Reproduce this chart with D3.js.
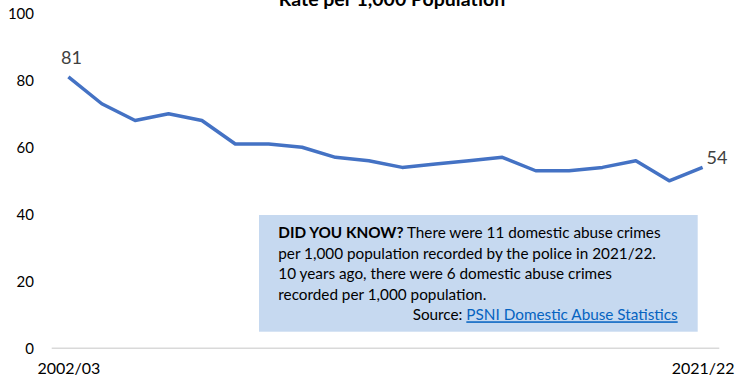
<!DOCTYPE html>
<html>
<head>
<meta charset="utf-8">
<script src="https://cdn.jsdelivr.net/npm/d3@7"></script>
<style>
  html, body { margin: 0; padding: 0; background: #fff; }
  svg { display: block; font-family: Lato, "Open Sans", sans-serif; }
</style>
</head>
<body>
<svg id="chart" width="737" height="382"></svg>
<script>
const categories = ["2002/03","2003/04","2004/05","2005/06","2006/07","2007/08","2008/09","2009/10","2010/11","2011/12",
  "2012/13","2013/14","2014/15","2015/16","2016/17","2017/18","2018/19","2019/20","2020/21","2021/22"];
const rates = [81,73,68,70,68,61,61,60,57,56,54,55,56,57,53,53,54,56,50,54];
const yTicks = [0,20,40,60,80,100];
const xTickLabels = ["2002/03","2021/22"];
const titleText = "Rate per 1,000 Population";
const noteLines = [
  [{b:true,t:"DID YOU KNOW?"},{b:false,t:" There were 11 domestic abuse crimes"}],
  [{b:false,t:"per 1,000 population recorded by the police in 2021/22."}],
  [{b:false,t:"10 years ago, there were 6 domestic abuse crimes"}],
  [{b:false,t:"recorded per 1,000 population."}]
];
const sourceLabel = "Source: ";
const sourceLink = "PSNI Domestic Abuse Statistics";

const svg = d3.select("#chart");
const x = d3.scalePoint().domain(categories).range([51.7, 719.3]).padding(0.5);
const y = d3.scaleLinear().domain([0,100]).range([348.3, 13.3]);

// title (cut at the top edge, as in the reference)
svg.append("text").attr("x", 392).attr("y", 5.5).attr("text-anchor","middle")
  .attr("font-weight","bold").attr("font-size",19.5).attr("fill","#000").text(titleText);

// y axis
const yAxis = svg.append("g").attr("transform","translate(38,0)")
  .call(d3.axisLeft(y).tickValues(yTicks).tickSize(0).tickPadding(4).tickFormat(d3.format("d")));
yAxis.select(".domain").remove();
yAxis.selectAll("text").attr("font-size",15).attr("fill","#000").attr("font-family","Lato, sans-serif");

// x axis
const xAxis = svg.append("g").attr("transform",`translate(0,${y(0)})`)
  .call(d3.axisBottom(x).tickValues(xTickLabels).tickSize(0).tickSizeOuter(0).tickPadding(14));
xAxis.select(".domain").attr("stroke","#d9d9d9").attr("stroke-width",1.5)
  .attr("d", `M${x.range()[0]},0H${x.range()[1]}`);
xAxis.selectAll("text").attr("font-size",16).attr("fill","#000").attr("font-family","Lato, sans-serif");

// line
const line = d3.line().x((d,i)=>x(categories[i])).y(d=>y(d));
svg.append("path").datum(rates).attr("d", line).attr("fill","none")
  .attr("stroke","#4472c4").attr("stroke-width",3.5).attr("stroke-linejoin","round");

// data labels
const last = rates.length-1;
svg.append("text").attr("x", x(categories[0])+3).attr("y", y(rates[0])-13)
  .attr("text-anchor","middle").attr("font-size",18).attr("fill","#404040").text(rates[0]);
svg.append("text").attr("x", x(categories[last])+4).attr("y", y(rates[last])-3)
  .attr("text-anchor","start").attr("font-size",18).attr("fill","#404040").text(rates[last]);

// note box
const box = svg.append("g");
box.append("rect").attr("x",259).attr("y",215).attr("width",438.7).attr("height",116.7).attr("fill","#c6d9f0");
const lineH = 20.5;
noteLines.forEach((parts,i)=>{
  const t = box.append("text").attr("x",278.3).attr("y",238.3+i*lineH).attr("font-size",15.3).attr("fill","#000");
  parts.forEach(p=>t.append("tspan").attr("font-weight",p.b?"bold":"normal").text(p.t));
});
const src = box.append("text").attr("x",677.7).attr("y",238.3+4*lineH).attr("text-anchor","end")
  .attr("font-size",15.3).attr("fill","#000");
src.append("tspan").text(sourceLabel);
src.append("tspan").attr("fill","#0563c1").attr("text-decoration","underline").text(sourceLink);
</script>
</body>
</html>
